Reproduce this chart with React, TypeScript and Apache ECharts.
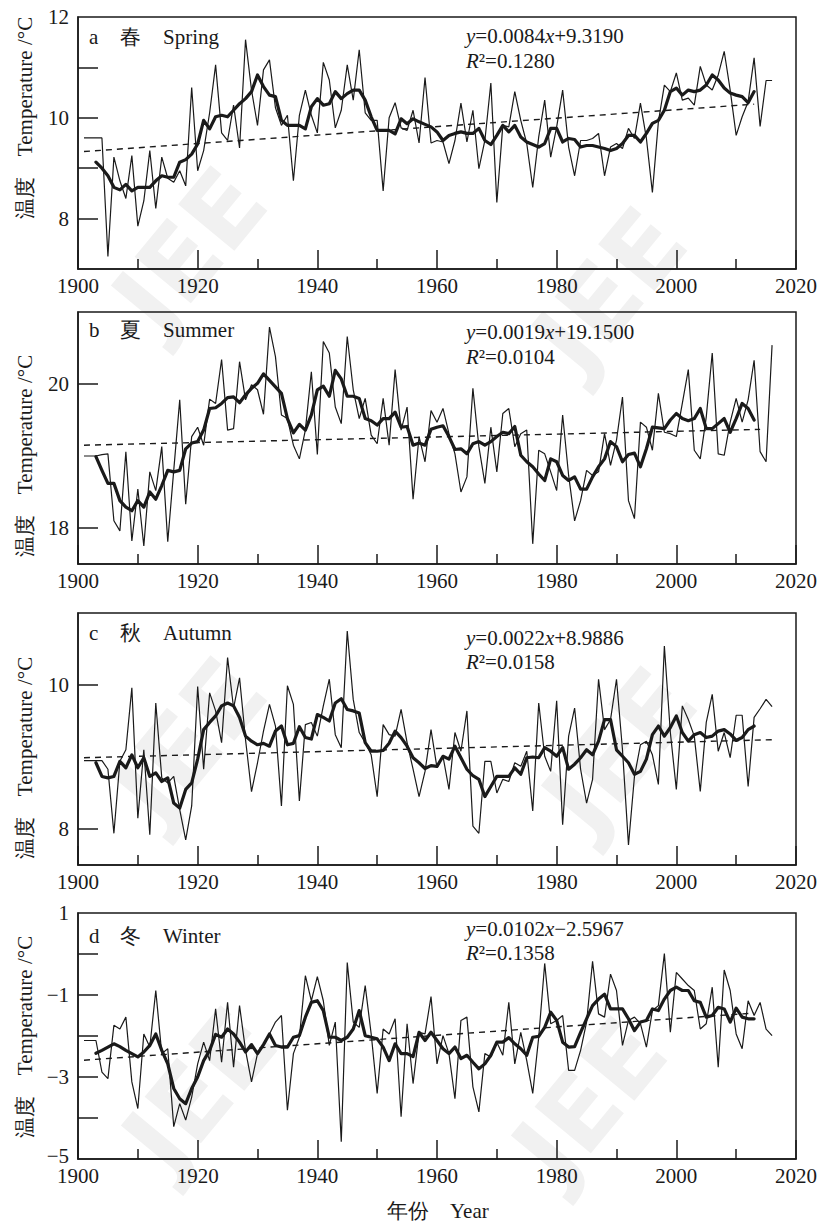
import React, { useEffect, useRef } from "react";
import * as echarts from "echarts";

const SERIF = "Liberation Serif, Times New Roman, serif";
const INK = "#1a1a1a";

const FIRST_YEAR = 1901; // annual series start
const MA_FIRST_YEAR = 1903; // 5-year moving average start

// ---------- a Spring ----------
const SPRING_ANNUAL = [
  9.6, 9.6, 9.6, 9.6, 7.25, 9.22, 8.75, 8.4, 9.25, 7.85,
  8.35, 9.35, 8.2, 9.22, 8.8, 8.72, 8.95, 8.65, 10.6, 8.95,
  9.35, 10.1, 11.05, 9.7, 9.55, 10.25, 9.4, 11.55, 10.55, 9.85,
  10.95, 11.15, 10.2, 9.85, 10.05, 8.75, 10.05, 10.55, 10.05, 9.7,
  11.1, 10.75, 9.8, 10.15, 11.05, 10.35, 11.35, 10.1, 9.95, 9.95,
  8.55, 10.0, 10.3, 9.8, 9.75, 10.15, 9.5, 10.8, 9.5, 9.55,
  9.52, 9.09, 9.55, 10.29, 9.52, 10.15, 8.99, 9.55, 10.69, 8.32,
  9.85, 9.82, 10.52, 9.95, 9.49, 8.62, 9.62, 10.35, 9.22, 9.82,
  10.55, 9.42, 8.85, 9.55, 9.55, 9.59, 9.69, 8.85, 9.42, 9.49,
  9.39, 9.79, 9.59, 10.29, 9.59, 8.52, 9.92, 10.65, 10.52, 10.89,
  10.35, 10.39, 10.25, 11.02, 10.65, 10.55, 10.85, 11.32, 10.55, 9.65,
  10.02, 10.32, 11.19, 9.83, 10.74, 10.74,
];
const SPRING_MA = [
  9.12, 9.0, 8.85, 8.62, 8.57, 8.68, 8.55, 8.62,
  8.62, 8.62, 8.75, 8.85, 8.82, 8.82, 9.12, 9.17, 9.28, 9.48,
  9.95, 9.78, 10.02, 10.05, 10.02, 10.15, 10.28, 10.38, 10.52, 10.85,
  10.62, 10.45, 10.42, 9.95, 9.85, 9.85, 9.85, 9.78, 10.22, 10.38,
  10.25, 10.28, 10.52, 10.38, 10.48, 10.55, 10.55, 10.35, 10.02, 9.75,
  9.75, 9.75, 9.68, 9.98, 9.88, 9.98, 9.92, 9.87, 9.82, 9.72,
  9.55, 9.65, 9.69, 9.72, 9.69, 9.69, 9.79, 9.55, 9.47, 9.65,
  9.85, 9.72, 9.85, 9.62, 9.52, 9.47, 9.42, 9.49, 9.79, 9.79,
  9.52, 9.59, 9.57, 9.42, 9.45, 9.45, 9.42, 9.39, 9.35, 9.39,
  9.49, 9.65, 9.65, 9.52, 9.69, 9.89, 9.95, 10.15, 10.52, 10.59,
  10.45, 10.55, 10.52, 10.55, 10.65, 10.85, 10.75, 10.59, 10.49, 10.45,
  10.42, 10.3, 10.52,
];
const SPRING_TREND = [[1901, 9.33], [2013, 10.27]];

// ---------- b Summer ----------
const SUMMER_ANNUAL = [
  19.0, 19.0, 19.0, 19.02, 19.03, 18.1, 17.96, 19.06, 17.82, 18.54,
  17.75, 18.78, 18.52, 19.13, 17.81, 18.8, 19.78, 18.33, 19.27, 19.4,
  19.15, 19.79, 19.73, 20.34, 19.36, 19.38, 20.31, 19.78, 19.99, 19.92,
  19.58, 20.79, 20.38, 19.57, 19.52, 19.15, 18.96, 19.36, 20.17, 19.02,
  20.59, 20.43, 19.68, 19.45, 20.66, 19.92, 19.52, 19.8, 19.29, 19.17,
  19.8, 19.15, 20.2, 19.36, 19.68, 18.4, 19.27, 18.92, 19.63, 19.47,
  19.66, 19.31, 19.03, 18.5, 18.71, 19.94, 19.13, 18.62, 19.4, 18.78,
  19.59, 19.66, 19.13, 19.31, 19.36, 17.78, 19.08, 19.03, 18.78, 18.52,
  19.57, 18.73, 18.1, 18.38, 18.8, 18.73, 18.78, 19.31, 18.87, 19.22,
  19.82, 18.38, 18.13, 19.47, 19.4, 19.08, 19.87, 19.33, 19.31, 19.27,
  19.73, 20.2, 19.08, 18.96, 19.54, 20.43, 19.03, 19.01, 19.47, 19.8,
  19.47, 19.78, 20.33, 19.06, 18.92, 20.54,
];
const SUMMER_MA = [
  18.99, 18.8, 18.62, 18.62, 18.38, 18.29, 18.24, 18.38,
  18.29, 18.5, 18.4, 18.59, 18.8, 18.78, 18.8, 19.1, 19.18, 19.2,
  19.36, 19.66, 19.67, 19.73, 19.81, 19.82, 19.74, 19.85, 19.94, 20.01,
  20.14, 20.05, 19.96, 19.87, 19.52, 19.32, 19.44, 19.36, 19.57, 19.92,
  19.97, 19.83, 20.19, 20.07, 19.83, 19.83, 19.8, 19.52, 19.49, 19.43,
  19.52, 19.52, 19.61, 19.4, 19.41, 19.15, 19.18, 19.15, 19.37, 19.4,
  19.42, 19.27, 19.09, 19.1, 19.03, 19.17, 19.2, 19.15, 19.2, 19.27,
  19.33, 19.31, 19.41, 19.01, 18.92, 18.85, 18.75, 18.66, 18.96, 18.92,
  18.73, 18.66, 18.71, 18.54, 18.54, 18.71, 18.85, 18.96, 19.2, 19.13,
  18.92, 19.02, 19.04, 18.85, 19.1, 19.4, 19.39, 19.38, 19.5, 19.59,
  19.52, 19.49, 19.52, 19.66, 19.38, 19.38, 19.45, 19.52, 19.33, 19.52,
  19.73, 19.66, 19.5,
];
const SUMMER_TREND = [[1901, 19.15], [2014, 19.37]];

// ---------- c Autumn ----------
const AUTUMN_ANNUAL = [
  8.95, 8.95, 8.95, 8.95, 8.83, 7.94, 8.94, 9.1, 9.96, 8.15,
  9.1, 7.92, 9.75, 8.71, 8.64, 8.73, 8.27, 7.85, 8.32, 9.98,
  8.83, 9.89, 9.64, 9.2, 10.38, 9.68, 10.1, 9.24, 8.52, 8.92,
  9.36, 9.73, 9.43, 8.32, 9.99, 9.73, 8.39, 9.45, 9.48, 9.29,
  9.71, 10.08, 9.31, 9.13, 10.75, 9.8, 9.34, 9.2, 9.03, 8.45,
  9.45, 9.31, 9.29, 9.66, 9.2, 8.83, 8.45, 8.8, 9.38, 8.85,
  9.01, 8.55, 9.34, 9.08, 9.64, 8.04, 7.94, 8.94, 8.94, 8.5,
  8.69, 8.66, 8.92, 8.87, 9.08, 8.25, 9.75, 9.01, 8.8, 9.78,
  8.06, 9.29, 9.68, 8.83, 8.36, 8.69, 10.08, 9.38, 9.52, 10.08,
  9.1, 7.78, 8.73, 9.17, 9.22, 9.03, 8.62, 10.54, 9.34, 8.55,
  9.71, 9.52, 9.29, 8.52, 9.48, 9.87, 9.08, 9.34, 8.99, 9.58,
  9.58, 8.59, 9.55, 9.67, 9.8, 9.7,
];
const AUTUMN_MA = [
  8.92, 8.73, 8.71, 8.73, 8.94, 8.85, 9.03, 8.85,
  8.99, 8.73, 8.78, 8.66, 8.71, 8.36, 8.29, 8.55, 8.64, 8.97,
  9.38, 9.48, 9.57, 9.71, 9.75, 9.71, 9.55, 9.29, 9.22, 9.17,
  9.19, 9.15, 9.36, 9.43, 9.17, 9.19, 9.42, 9.27, 9.25, 9.59,
  9.55, 9.5, 9.75, 9.81, 9.66, 9.64, 9.61, 9.2, 9.08, 9.08,
  9.09, 9.19, 9.36, 9.27, 9.15, 8.99, 8.92, 8.84, 8.88, 8.87,
  9.01, 8.97, 9.15, 8.99, 8.83, 8.74, 8.69, 8.45, 8.59, 8.73,
  8.73, 8.73, 8.85, 8.76, 8.99, 9.0, 8.99, 9.13, 9.08, 9.01,
  9.13, 8.83, 8.9, 8.99, 9.1, 9.03, 9.22, 9.52, 9.52, 9.1,
  9.01, 8.92, 8.76, 8.8, 8.97, 9.31, 9.43, 9.29, 9.41, 9.57,
  9.34, 9.22, 9.31, 9.34, 9.27, 9.29, 9.36, 9.38, 9.32, 9.23,
  9.27, 9.38, 9.43,
];
const AUTUMN_TREND = [[1901, 8.99], [2016, 9.24]];

// ---------- d Winter ----------
const WINTER_ANNUAL = [
  -2.11, -2.11, -2.11, -2.88, -3.04, -1.74, -1.83, -1.54, -3.12, -3.77,
  -1.95, -2.27, -0.89, -2.43, -2.31, -4.21, -3.65, -4.05, -3.49, -2.68,
  -2.15, -2.6, -1.34, -2.64, -1.18, -2.76, -1.26, -2.35, -3.12, -2.43,
  -2.23, -1.95, -1.66, -1.5, -3.81, -2.43, -2.03, -0.53, -1.14, -0.55,
  -1.14, -2.23, -1.66, -4.58, -0.21, -1.66, -1.79, -0.77, -1.95, -3.4,
  -1.83, -1.95, -1.58, -3.97, -1.7, -3.16, -1.91, -1.95, -1.04, -2.68,
  -1.99, -2.43, -3.53, -1.62, -1.54, -3.24, -3.85, -2.43, -2.51, -2.15,
  -2.47, -1.18, -2.68, -1.91, -2.6, -3.4, -2.03, -0.23, -1.7, -1.62,
  -1.5, -2.84, -2.84, -2.35, -1.66, -0.18, -1.46, -1.54, -0.49, -0.89,
  -2.23, -1.62, -1.54, -1.7, -2.27, -1.38, -1.26, 0.01, -1.91, -0.45,
  -0.61, -0.77, -0.89, -1.83, -1.7, -0.81, -2.76, -0.39, -0.89, -1.95,
  -2.31, -1.14, -1.5, -1.18, -1.83, -1.99,
];
const WINTER_MA = [
  -2.42, -2.35, -2.27, -2.19, -2.26, -2.35, -2.43, -2.51,
  -2.39, -2.23, -1.95, -2.35, -2.68, -3.28, -3.53, -3.65, -3.28, -3.0,
  -2.6, -2.35, -1.96, -2.03, -1.83, -1.95, -2.15, -2.39, -2.21, -2.43,
  -2.21, -1.95, -2.23, -2.27, -2.27, -2.03, -1.99, -1.54, -1.18, -1.14,
  -1.38, -2.03, -2.03, -2.11, -2.03, -1.83, -1.38, -1.99, -2.03, -2.07,
  -2.27, -2.6, -2.19, -2.43, -2.43, -2.5, -1.91, -2.11, -1.91, -2.11,
  -2.31, -2.43, -2.27, -2.55, -2.47, -2.64, -2.8, -2.68, -2.47, -2.15,
  -2.15, -2.04, -2.19, -2.31, -2.47, -2.03, -2.01, -1.79, -1.42, -1.62,
  -2.15, -2.27, -2.26, -1.91, -1.58, -1.26, -1.1, -0.98, -1.34, -1.34,
  -1.34, -1.58, -1.87, -1.66, -1.62, -1.34, -1.38, -1.1, -0.89, -0.81,
  -0.89, -0.89, -1.14, -1.18, -1.54, -1.5, -1.3, -1.34, -1.66, -1.32,
  -1.54, -1.58, -1.58,
];
const WINTER_TREND = [[1901, -2.59], [2013, -1.44]];

// ---------- axis ticks / labels ----------
const X_MIN = 1900;
const X_MAX = 2020;
const SPRING_Y_TICKS = [8, 9, 10, 11];
const SPRING_Y_LABELS = [8, 10, 12];
const SUMMER_Y_TICKS = [18, 20];
const SUMMER_Y_LABELS = [18, 20];
const AUTUMN_Y_TICKS = [8, 10];
const AUTUMN_Y_LABELS = [8, 10];
const WINTER_Y_TICKS = [0, -1, -2, -3, -4];
const WINTER_Y_LABELS = [1, -1, -3, -5];

const PANELS = [
  {
    letter: "a", cn: "春", en: "Spring",
    eq: "{i|y}=0.0084{i|x}+9.3190", r2: "0.1280",
    annual: SPRING_ANNUAL, ma: SPRING_MA, trend: SPRING_TREND,
    yMin: 7, yMax: 12, yTicks: SPRING_Y_TICKS, yLabels: SPRING_Y_LABELS,
    top: 17, height: 252, labelY: 37, eqY: 35.5, r2Y: 60.5, nameY: 118,
  },
  {
    letter: "b", cn: "夏", en: "Summer",
    eq: "{i|y}=0.0019{i|x}+19.1500", r2: "0.0104",
    annual: SUMMER_ANNUAL, ma: SUMMER_MA, trend: SUMMER_TREND,
    yMin: 17.5, yMax: 21, yTicks: SUMMER_Y_TICKS, yLabels: SUMMER_Y_LABELS,
    top: 312, height: 252, labelY: 330, eqY: 332, r2Y: 357, nameY: 456,
  },
  {
    letter: "c", cn: "秋", en: "Autumn",
    eq: "{i|y}=0.0022{i|x}+8.9886", r2: "0.0158",
    annual: AUTUMN_ANNUAL, ma: AUTUMN_MA, trend: AUTUMN_TREND,
    yMin: 7.5, yMax: 11, yTicks: AUTUMN_Y_TICKS, yLabels: AUTUMN_Y_LABELS,
    top: 613, height: 252, labelY: 633, eqY: 637.5, r2Y: 662, nameY: 758,
  },
  {
    letter: "d", cn: "冬", en: "Winter",
    eq: "{i|y}=0.0102{i|x}\u22122.5967", r2: "0.1358",
    annual: WINTER_ANNUAL, ma: WINTER_MA, trend: WINTER_TREND,
    yMin: -5, yMax: 1, yTicks: WINTER_Y_TICKS, yLabels: WINTER_Y_LABELS,
    top: 913, height: 246, labelY: 936, eqY: 929, r2Y: 953, nameY: 1037,
  },
];

const WATERMARKS = [
  [190, 250], [610, 290], [190, 740], [620, 750], [200, 1090], [590, 1100],
];

function fmt(v: number) {
  if (v === -5) return "{lo|\u22125}";
  return v < 0 ? "\u2212" + Math.abs(v) : String(v);
}

function txt(x: number, y: number, text: string, extra: any = {}) {
  return {
    type: "text",
    x,
    y,
    z: 10,
    style: {
      text,
      fill: INK,
      fontSize: 21,
      fontFamily: SERIF,
      align: "left",
      textAlign: "left",
      verticalAlign: "middle",
      textVerticalAlign: "middle",
      ...extra,
    },
  };
}

export default function App() {
  const ref = useRef<HTMLDivElement>(null);

  useEffect(() => {
    document.body.style.margin = "0";
    if (!ref.current) return;
    const chart = echarts.init(ref.current, undefined, { renderer: "svg" });

    const grid: any[] = [];
    const xAxis: any[] = [];
    const yAxis: any[] = [];
    const series: any[] = [];
    const graphic: any[] = [];

    WATERMARKS.forEach(([x, y]) => {
      graphic.push({
        type: "text",
        x,
        y,
        z: -10,
        rotation: 0.88,
        silent: true,
        style: {
          text: "JEE",
          fill: "#f1f1f1",
          fontSize: 100,
          fontWeight: "bold",
          fontFamily: "DejaVu Sans, sans-serif",
          align: "center",
          textAlign: "center",
          verticalAlign: "middle",
          textVerticalAlign: "middle",
        },
      });
    });

    PANELS.forEach((p, i) => {
      grid.push({
        left: 78,
        right: 25,
        top: p.top,
        height: p.height,
        show: true,
        borderColor: INK,
        borderWidth: 1.5,
        backgroundColor: "transparent",
      });
      xAxis.push({
        gridIndex: i,
        type: "value",
        min: X_MIN,
        max: X_MAX,
        interval: 20,
        axisLine: { show: true, onZero: false, lineStyle: { color: INK, width: 1.5 } },
        axisTick: { show: true, inside: true, length: 19, lineStyle: { color: INK, width: 1.5 } },
        minorTick: { show: true, splitNumber: 2, length: 10, lineStyle: { color: INK, width: 1.5 } },
        axisLabel: {
          fontSize: 21, color: INK, fontFamily: SERIF, margin: 9, lineHeight: 16,
          formatter: (v: number) => String(v),
        },
        splitLine: { show: false },
        minorSplitLine: { show: false },
      });
      yAxis.push({
        gridIndex: i,
        type: "value",
        min: p.yMin,
        max: p.yMax,
        axisLine: { show: true, onZero: false, lineStyle: { color: INK, width: 1.5 } },
        axisTick: {
          show: true, inside: true, length: 20, customValues: p.yTicks,
          lineStyle: { color: INK, width: 1.5 },
        },
        axisLabel: {
          customValues: p.yLabels, formatter: fmt, fontSize: 21, color: INK,
          fontFamily: SERIF, margin: 9, lineHeight: 16,
          rich: {
            lo: { fontSize: 21, fontFamily: SERIF, color: INK, lineHeight: 16, padding: [0, 0, 6, 0] },
          },
        },
        splitLine: { show: false },
      });
      series.push({
        type: "line",
        xAxisIndex: i,
        yAxisIndex: i,
        symbol: "none",
        z: 3,
        lineStyle: { color: INK, width: 1.2 },
        data: p.annual.map((v, k) => [FIRST_YEAR + k, v]),
      });
      series.push({
        type: "line",
        xAxisIndex: i,
        yAxisIndex: i,
        symbol: "none",
        z: 4,
        lineStyle: { color: INK, width: 3.2, join: "round", cap: "round" },
        data: p.ma.map((v, k) => [MA_FIRST_YEAR + k, v]),
      });
      series.push({
        type: "line",
        xAxisIndex: i,
        yAxisIndex: i,
        symbol: "none",
        z: 2,
        lineStyle: { color: INK, width: 1.4, type: [6, 5] },
        data: p.trend,
      });

      graphic.push(txt(89, p.labelY, p.letter));
      graphic.push(txt(120, p.labelY, p.cn));
      graphic.push(txt(163, p.labelY, p.en));
      graphic.push(
        txt(466, p.eqY, p.eq, {
          rich: { i: { fontStyle: "italic", fontSize: 21, fontFamily: SERIF, fill: INK } },
        })
      );
      graphic.push(
        txt(466, p.r2Y, "{i|R}\u00b2=" + p.r2, {
          rich: { i: { fontStyle: "italic", fontSize: 21, fontFamily: SERIF, fill: INK } },
        })
      );
      graphic.push({
        type: "text",
        x: 25,
        y: p.nameY,
        rotation: Math.PI / 2,
        z: 10,
        style: {
          text: "温度\u3000Temperature /°C",
          fill: INK,
          fontSize: 21,
          fontFamily: SERIF,
          align: "center",
          textAlign: "center",
          verticalAlign: "middle",
          textVerticalAlign: "middle",
        },
      });
    });

    graphic.push(txt(387, 1211, "年份"));
    graphic.push(txt(450, 1211, "Year"));

    chart.setOption({
      animation: false,
      backgroundColor: "#ffffff",
      textStyle: { fontFamily: SERIF },
      grid,
      xAxis,
      yAxis,
      series,
      graphic,
    });

    return () => chart.dispose();
  }, []);

  return <div ref={ref} style={{ width: 821, height: 1224, fontFamily: SERIF }} />;
}
